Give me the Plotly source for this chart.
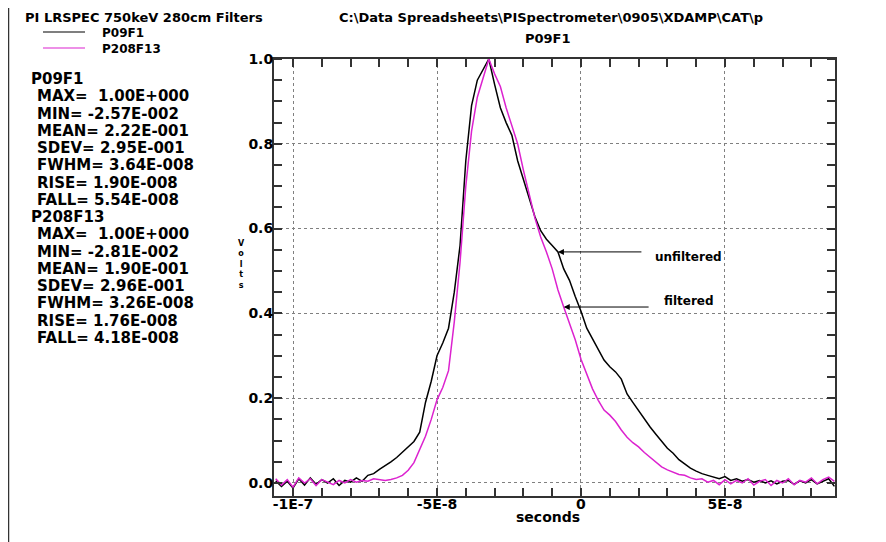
import plotly.graph_objects as go

# ---------------- data ----------------
time_ns = [-106, -104, -102, -100, -98, -96, -94, -92, -90, -88, -86, -84, -82, -80,
           -78, -76, -74, -72, -70, -68, -66, -64, -62, -60, -58, -56, -54, -52,
           -50, -48, -46, -44, -42, -40, -38, -36, -34, -32, -30, -28, -26, -24,
           -22, -20, -18, -16, -14, -12, -10, -8, -6, -4, -2, 0, 2, 4, 6, 8,
           10, 12, 14, 16, 18, 20, 22, 24, 26, 28, 30, 32, 34, 36, 38, 40,
           42, 44, 46, 48, 50, 52, 54, 56, 58, 60, 62, 64, 66, 68, 70, 72,
           74, 76, 78, 80, 82, 84, 86, 88]

p09f1 = [0.005, -0.008, 0.004, -0.012, 0.010, -0.005, 0.012, -0.003, 0.008, 0.000,
         0.010, -0.006, 0.006, 0.002, 0.012, 0.004, 0.018, 0.022, 0.032, 0.040,
         0.050, 0.060, 0.072, 0.085, 0.098, 0.120, 0.190, 0.240, 0.300, 0.330,
         0.365, 0.450, 0.560, 0.760, 0.890, 0.950, 0.975, 1.000, 0.940, 0.885,
         0.850, 0.820, 0.760, 0.715, 0.675, 0.628, 0.595, 0.575, 0.560, 0.545,
         0.505, 0.478, 0.440, 0.405, 0.365, 0.340, 0.315, 0.290, 0.274, 0.262,
         0.245, 0.210, 0.190, 0.170, 0.150, 0.132, 0.115, 0.098, 0.082, 0.070,
         0.055, 0.045, 0.035, 0.028, 0.022, 0.018, 0.014, 0.010, 0.015, 0.006,
         0.010, 0.004, 0.008, 0.002, 0.006, 0.000, 0.005, -0.002, 0.004, 0.006,
         -0.003, 0.005, 0.000, 0.008, -0.002, 0.004, 0.010, -0.008]

p208f13 = [0.010, -0.005, 0.008, -0.010, 0.012, 0.000, 0.010, -0.006, 0.008, 0.002,
           -0.004, 0.006, 0.000, 0.008, 0.002, 0.006, 0.004, 0.010, 0.008, 0.006,
           0.008, 0.012, 0.018, 0.030, 0.048, 0.078, 0.110, 0.150, 0.196, 0.225,
           0.265, 0.380, 0.520, 0.700, 0.830, 0.910, 0.955, 1.000, 0.965, 0.935,
           0.885, 0.845, 0.800, 0.738, 0.685, 0.625, 0.580, 0.545, 0.505, 0.455,
           0.415, 0.375, 0.338, 0.292, 0.255, 0.222, 0.195, 0.172, 0.160, 0.145,
           0.125, 0.108, 0.095, 0.085, 0.072, 0.060, 0.048, 0.038, 0.031, 0.026,
           0.020, 0.018, 0.012, 0.008, 0.010, 0.002, 0.006, -0.004, 0.008, -0.002,
           0.006, 0.000, 0.010, -0.005, 0.004, 0.008, -0.006, 0.006, 0.000, 0.010,
           -0.004, 0.006, 0.002, 0.012, -0.002, 0.008, 0.014, 0.004]

x_tick_vals = [-1e-7, -5e-8, 0, 5e-8]
x_tick_text = ["-1E-7", "-5E-8", "0", "5E-8"]
y_tick_vals = [0.0, 0.2, 0.4, 0.6, 0.8, 1.0]
y_tick_text = ["0.0", "0.2", "0.4", "0.6", "0.8", "1.0"]

stats_lines = [
    ("P09F1", 0), ("MAX=  1.00E+000", 1), ("MIN= -2.57E-002", 1), ("MEAN= 2.22E-001", 1),
    ("SDEV= 2.95E-001", 1), ("FWHM= 3.64E-008", 1), ("RISE= 1.90E-008", 1), ("FALL= 5.54E-008", 1),
    ("P208F13", 0), ("MAX=  1.00E+000", 1), ("MIN= -2.81E-002", 1), ("MEAN= 1.90E-001", 1),
    ("SDEV= 2.96E-001", 1), ("FWHM= 3.26E-008", 1), ("RISE= 1.76E-008", 1), ("FALL= 4.18E-008", 1),
]

title_left = "PI LRSPEC 750keV 280cm Filters"
title_path = "C:\\Data Spreadsheets\\PISpectrometer\\0905\\XDAMP\\CAT\\p"
plot_title = "P09F1"
series_names = ["P09F1", "P208F13"]
y_title = "Volts"
x_title = "seconds"

# ---------------- figure ----------------
OFF = 8                      # the page body adds an 8px margin
W, H = 886 - OFF, 542 - OFF
L, R, T, B = 274 - OFF, 835 - OFF, 59 - OFF, 496 - OFF
MAGENTA = "#dc22cf"
FONT = "DejaVu Sans"


def px(x):
    return (x - OFF - L) / (R - L)


def py(y):
    return (B - (y - OFF)) / (B - T)


t_s = [v * 1e-9 for v in time_ns]

fig = go.Figure()
fig.add_trace(go.Scatter(x=t_s, y=p09f1, mode="lines", name=series_names[0],
                         line=dict(color="black", width=1.5), showlegend=False))
fig.add_trace(go.Scatter(x=t_s, y=p208f13, mode="lines", name=series_names[1],
                         line=dict(color=MAGENTA, width=1.5), showlegend=False))

axis_common = dict(
    ticks="", showgrid=True, gridcolor="#808080", griddash="dot", gridwidth=1,
    showline=True, linecolor="#333333", linewidth=2, mirror="allticks", zeroline=False,
    automargin=False,
    tickfont=dict(family=FONT, size=14, color="black", weight="bold"),
)

fig.update_xaxes(
    range=[-1.066e-7, 8.82e-8], tickmode="array", tickvals=x_tick_vals, ticktext=x_tick_text,
    ticklabelstandoff=-6,
    minor=dict(tickmode="linear", tick0=0, dtick=1e-8, ticks="inside", ticklen=8,
               tickcolor="#333333", tickwidth=1.5, showgrid=False),
    **axis_common,
)
fig.update_yaxes(
    range=[-0.0307, 1.0], tickmode="array", tickvals=y_tick_vals, ticktext=y_tick_text,
    ticklabelstandoff=-4,
    minor=dict(tickmode="linear", tick0=0, dtick=0.05, ticks="inside", ticklen=8,
               tickcolor="#333333", tickwidth=1.5, showgrid=False),
    **axis_common,
)

annotations = []


def txt(text, x, y, size=13, xanchor="left", yanchor="middle"):
    annotations.append(dict(text=text, x=px(x), y=py(y), xref="paper", yref="paper",
                            xanchor=xanchor, yanchor=yanchor, showarrow=False,
                            font=dict(family=FONT, size=size, color="black", weight="bold")))


# titles (anchored to the top edge so they are not clipped)
txt(title_left, 23, OFF, size=13, yanchor="top")
txt(title_path, 337, OFF, size=13, yanchor="top")
txt(plot_title, 548, 39, size=13, xanchor="center")

# legend
txt(series_names[0], 100, 33, size=12)
txt(series_names[1], 100, 49, size=12)

# stats block
for i, (line, indent) in enumerate(stats_lines):
    txt(line, 29 + 6 * indent, 79 + 17.25 * i, size=15)

# axis titles
txt(x_title, 548, 517, size=14, xanchor="center")
txt("<br>".join(y_title), 241, 264, size=8, xanchor="center")

# arrow annotations
i_unf = time_ns.index(-8)
i_fil = time_ns.index(-6)
annotations.append(dict(x=time_ns[i_unf] * 1e-9, y=p09f1[i_unf], xref="x", yref="y",
                        ax=21.5e-9, ay=p09f1[i_unf], axref="x", ayref="y",
                        text="", showarrow=True, arrowhead=2, arrowsize=1.2,
                        arrowwidth=1, arrowcolor="black"))
annotations.append(dict(x=time_ns[i_fil] * 1e-9, y=p208f13[i_fil], xref="x", yref="y",
                        ax=24e-9, ay=p208f13[i_fil], axref="x", ayref="y",
                        text="", showarrow=True, arrowhead=2, arrowsize=1.2,
                        arrowwidth=1, arrowcolor="black"))
txt("unfiltered", 653, 257, size=12)
txt("filtered", 662, 301, size=12)

shapes = [
    # legend sample lines
    dict(type="line", xref="paper", yref="paper", x0=px(43), x1=px(85), y0=py(32), y1=py(32),
         line=dict(color="black", width=1.2)),
    dict(type="line", xref="paper", yref="paper", x0=px(43), x1=px(85), y0=py(48), y1=py(48),
         line=dict(color=MAGENTA, width=1.2)),
    # left frame edge
    dict(type="line", xref="paper", yref="paper", x0=px(8.5), x1=px(8.5), y0=py(OFF), y1=py(542),
         line=dict(color="#333333", width=1.5)),
]

fig.update_layout(
    width=W, height=H,
    margin=dict(l=L, r=W - R, t=T, b=H - B, pad=0),
    paper_bgcolor="white", plot_bgcolor="white",
    annotations=annotations, shapes=shapes, showlegend=False,
)

fig.write_html("out.html")
